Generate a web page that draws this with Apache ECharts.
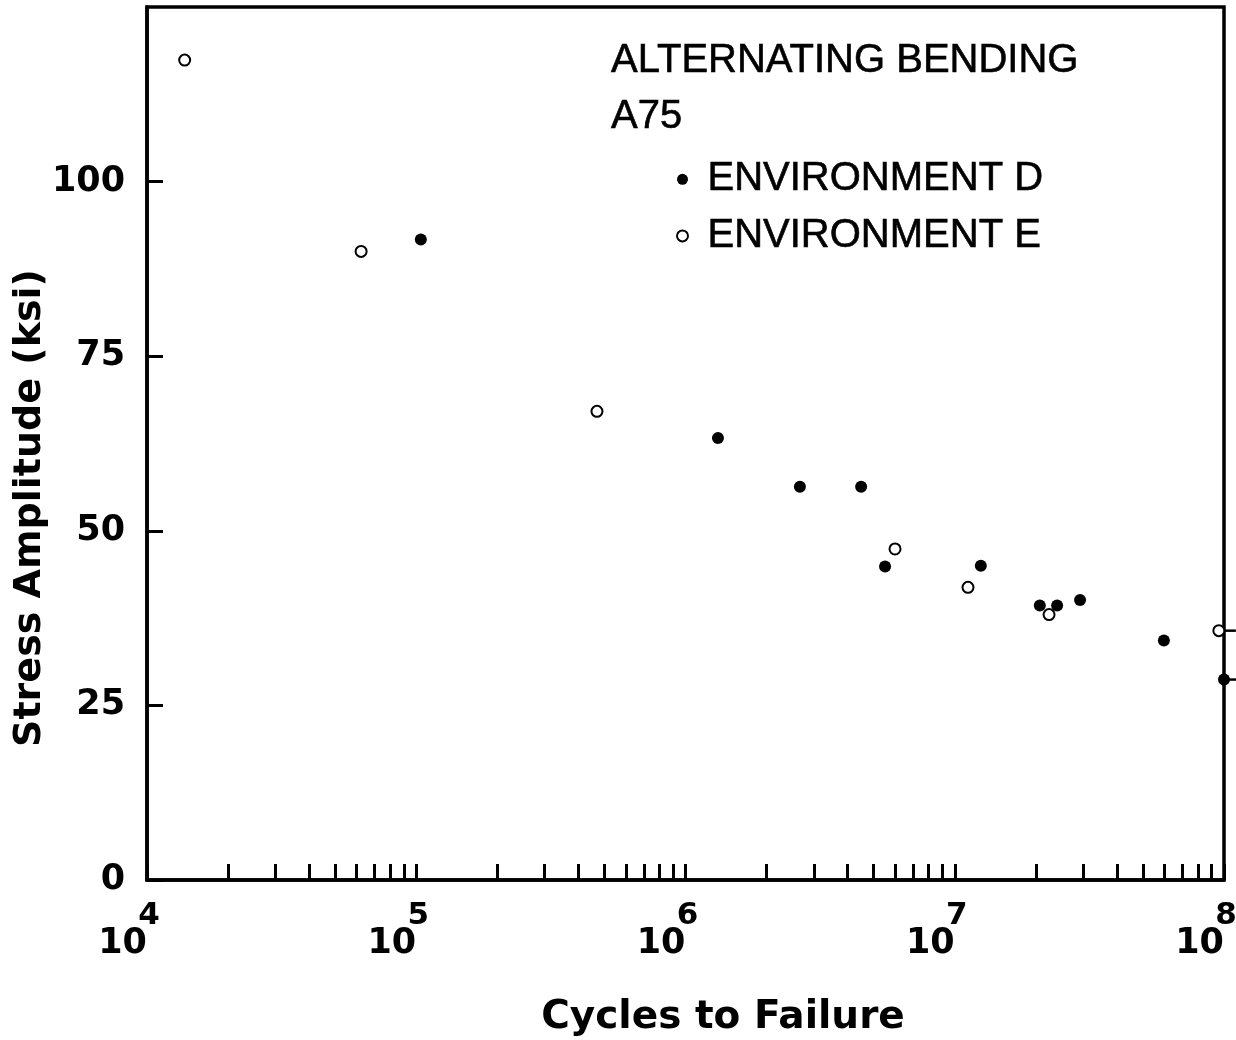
<!DOCTYPE html>
<html><head><meta charset="utf-8">
<script src="https://cdn.jsdelivr.net/npm/echarts@6/dist/echarts.min.js"></script>
<style>html,body{margin:0;padding:0;background:#fff}#c{width:1236px;height:1040px}</style>
</head><body><div id="c"></div>
<script>
// ---- data ----
const envDCycles = [1.04e5, 1.32e6, 2.66e6, 4.49e6, 5.51e6, 1.25e7, 2.07e7, 2.40e7, 2.92e7, 5.98e7, 1.0e8];
const envDStress = [91.7, 63.3, 56.3, 56.3, 44.9, 45.0, 39.3, 39.3, 40.1, 34.3, 28.7];
const envECycles = [1.38e4, 6.24e4, 4.69e5, 6.0e6, 1.12e7, 2.24e7, 9.57e7];
const envEStress = [117.4, 90.0, 67.1, 47.4, 41.9, 38.0, 35.7];
const runoutCycles = [9.57e7, 1.0e8];
const runoutStress = [35.7, 28.7];
const xDecades = [1e4, 1e5, 1e6, 1e7, 1e8];
const xExponents = ['4', '5', '6', '7', '8'];
const xMinorMultipliers = [2, 3, 4, 5, 6, 7, 8, 9];
const yTickLabels = [0, 25, 50, 75, 100];
const seriesNames = ['ENVIRONMENT D', 'ENVIRONMENT E'];
const titleLines = ['ALTERNATING BENDING', 'A75'];
const xTitle = 'Cycles to Failure';
const yTitle = 'Stress Amplitude (ksi)';

const xTickValues = [];
xDecades.forEach((d, i) => {
  xTickValues.push(d);
  if (i < xDecades.length - 1) xMinorMultipliers.forEach(m => xTickValues.push(d * m));
});
const zip = (a, b) => a.map((v, i) => [v, b[i]]);

const BOLD = '"DejaVu Sans"';
const LEG = '"Liberation Sans"';

const chart = echarts.init(document.getElementById('c'));
chart.setOption({
  animation: false,
  backgroundColor: '#fff',
  grid: { left: 147, top: 7, right: 12, bottom: 160, outerBoundsMode: 'none', containLabel: false, show: true, borderColor: '#000', borderWidth: 3.5, backgroundColor: 'transparent' },
  xAxis: {
    type: 'log', logBase: 10, min: 1e4, max: 1e8,
    axisLine: { show: true, lineStyle: { color: '#000', width: 3.5 } },
    axisTick: { show: true, inside: true, length: 16, lineStyle: { color: '#000', width: 3 }, customValues: xTickValues },
    axisLabel: {
      customValues: xDecades, margin: 26, padding: [0, 36, 0, 0], color: '#000',
      formatter: function (v) {
        const i = xDecades.findIndex(d => Math.abs(Math.log10(d) - Math.log10(v)) < 1e-6);
        return '{s|' + (i >= 0 ? xExponents[i] : '') + '}\n{b|10}';
      },
      rich: {
        b: { fontFamily: BOLD, fontWeight: 'bold', fontSize: 35, color: '#000', lineHeight: 36, padding: [0, 13, 0, 0], align: 'left' },
        s: { fontFamily: BOLD, fontWeight: 'bold', fontSize: 31, color: '#000', lineHeight: 20, align: 'right' }
      }
    },
    splitLine: { show: false }
  },
  yAxis: {
    type: 'value', min: 0, max: 125, interval: 25,
    axisLine: { show: true, lineStyle: { color: '#000', width: 3.5 } },
    axisTick: { show: true, inside: true, length: 16, lineStyle: { color: '#000', width: 3 }, customValues: yTickLabels },
    axisLabel: { customValues: yTickLabels, margin: 22, color: '#000', fontFamily: BOLD, fontWeight: 'bold', fontSize: 35 },
    splitLine: { show: false }
  },
  legend: {
    data: seriesNames, orient: 'vertical', left: 671, top: 154,
    itemWidth: 40, itemHeight: 11, itemGap: 16,
    textStyle: { fontFamily: LEG, fontSize: 40, color: '#000', textBorderColor: '#000', textBorderWidth: 0.6 }
  },
  graphic: [
    { type: 'text', x: 611, y: 61, style: { text: titleLines[0], font: '40px ' + LEG, fill: '#000', stroke: '#000', lineWidth: 0.6, align: 'left', verticalAlign: 'middle' } },
    { type: 'text', x: 611, y: 117, style: { text: titleLines[1], font: '40px ' + LEG, fill: '#000', stroke: '#000', lineWidth: 0.6, align: 'left', verticalAlign: 'middle' } },
    { type: 'text', x: 723, y: 1018, style: { text: xTitle, font: 'bold 39px ' + BOLD, fill: '#000', align: 'center', verticalAlign: 'middle' } },
    { type: 'text', x: 30, y: 508, rotation: Math.PI / 2, style: { text: yTitle, font: 'bold 38px ' + BOLD, fill: '#000', align: 'center', verticalAlign: 'middle' } }
  ],
  series: [
    { name: seriesNames[0], type: 'scatter', clip: false, symbol: 'circle', symbolSize: 12,
      itemStyle: { color: '#000', opacity: 1 }, data: zip(envDCycles, envDStress), z: 3 },
    { name: seriesNames[1], type: 'scatter', clip: false, symbol: 'circle', symbolSize: 11,
      itemStyle: { color: '#fff', borderColor: '#000', borderWidth: 2, opacity: 1 }, data: zip(envECycles, envEStress), z: 4 },
    { name: 'runout', type: 'scatter', clip: false, symbol: 'rect', symbolSize: [12, 2.5], symbolOffset: [11, 0],
      itemStyle: { color: '#000', opacity: 1 }, data: zip(runoutCycles, runoutStress), z: 2, silent: true }
  ]
});
</script></body></html>
